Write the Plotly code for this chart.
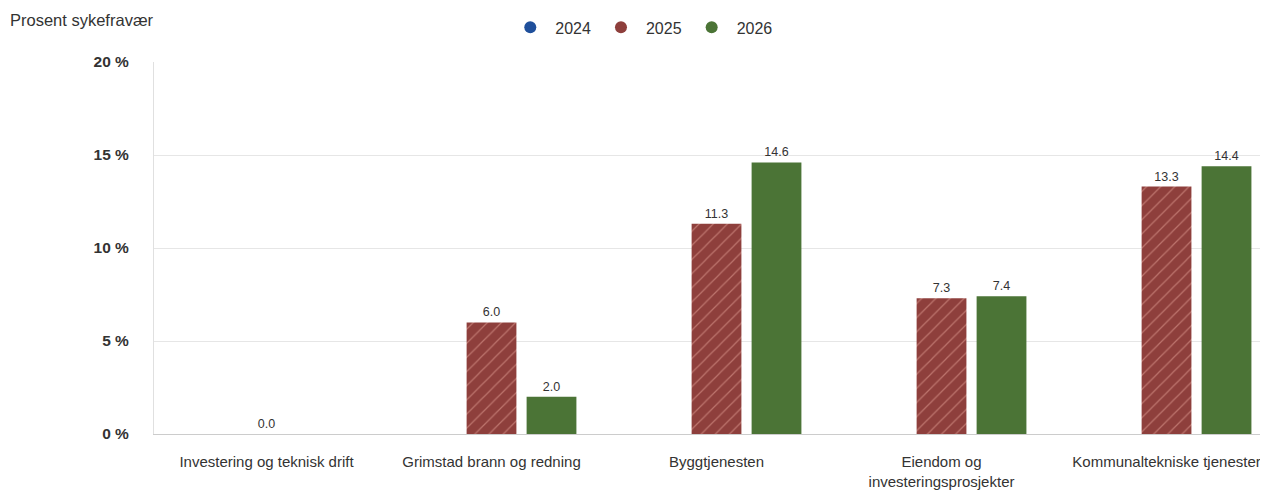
import plotly.graph_objects as go

categories = ["Investering og teknisk drift", "Grimstad brann og redning", "Byggtjenesten",
              "Eiendom og<br>investeringsprosjekter", "Kommunaltekniske tjenester"]
years = ["2024", "2025", "2026"]
v2024 = [None, None, None, None, None]
v2025 = [0.0, 6.0, 11.3, 7.3, 13.3]
v2026 = [None, 2.0, 14.6, 7.4, 14.4]
y_ticks = [0, 5, 10, 15, 20]
y_tick_labels = ["0 %", "5 %", "10 %", "15 %", "20 %"]

colors = {"2024": "#1f4f9b", "2025": "#8e3f3c", "2026": "#4b7436"}
font = "Liberation Sans, Arial, sans-serif"

fig = go.Figure()
series = {"2024": v2024, "2025": v2025, "2026": v2026}
for yr in years:
    marker = dict(color=colors[yr], line=dict(width=0))
    if yr == "2025":
        marker["pattern"] = dict(shape="/", fgcolor="#eaa99e", bgcolor=colors[yr], size=10, solidity=0.12)
    fig.add_trace(go.Bar(
        x=list(range(len(categories))), y=series[yr], name=yr, marker=marker,
        texttemplate="%{y:.1f}", textposition="outside", cliponaxis=False,
        textfont=dict(size=12.5, color="#333333", family=font),
        showlegend=False,
    ))
    fig.add_trace(go.Scatter(
        x=[None], y=[None], mode="markers", name=yr,
        marker=dict(symbol="circle", size=15, color=colors[yr]),
        showlegend=True,
    ))

W, H = 1260, 482
L, T, B = 146, 54, 56
PW, PH = W - L, H - T - B

fig.update_layout(
    width=W, height=H,
    margin=dict(l=L, r=0, t=T, b=B),
    plot_bgcolor="white", paper_bgcolor="white",
    barmode="group", bargap=0.2, bargroupgap=0.17,
    font=dict(family=font, color="#333333"),
    legend=dict(orientation="h", x=0.503, xanchor="center", xref="container",
                y=0.995, yanchor="top", yref="container",
                font=dict(size=16, color="#333333"),
                itemsizing="constant", itemwidth=40, traceorder="normal"),
    xaxis=dict(
        tickmode="array", tickvals=list(range(len(categories))), ticktext=categories,
        range=[-0.5, 4.451], showgrid=False, showline=True, linecolor="#cccccc", linewidth=1,
        ticks="", tickfont=dict(size=15, color="#333333"), ticklabelstandoff=14,
        ticklabeloverflow="allow", automargin=False,
    ),
    yaxis=dict(
        range=[0, 20], tickvals=y_ticks, ticktext=y_tick_labels,
        showgrid=True, gridcolor="#e6e6e6", gridwidth=1, zeroline=False,
        tickfont=dict(size=15.5, color="#333333", family=font, weight="bold"),
        ticklabelstandoff=21, showline=True, linecolor="#e0e0e0", linewidth=1,
        automargin=False,
    ),
    annotations=[dict(text="Prosent sykefravær", xref="paper", yref="paper", x=-L / PW, y=(PH + T - 12) / PH,
                      xanchor="left", yanchor="middle", showarrow=False,
                      font=dict(size=16.5, color="#333333"))],
)

fig.write_html("out.html")
